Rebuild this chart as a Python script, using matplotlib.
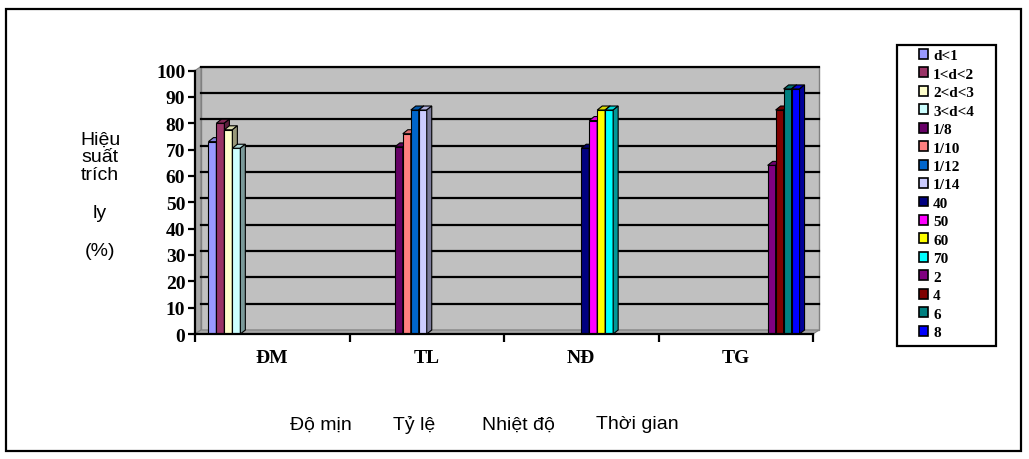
import matplotlib
matplotlib.use("Agg")
import matplotlib.pyplot as plt
import numpy as np
from matplotlib.patches import Patch, Polygon, Rectangle
from matplotlib.transforms import offset_copy

# extraction yield (%) for each factor tested
categories = ["ĐM", "TL", "NĐ", "TG"]
factor_names = ["Độ mịn", "Tỷ lệ", "Nhiệt độ", "Thời gian"]

dm_labels = ["d<1", "1<d<2", "2<d<3", "3<d<4"]
dm_values = [73, 80, 77.5, 70.5]
tl_labels = ["1/8", "1/10", "1/12", "1/14"]
tl_values = [71, 76, 85, 85]
nd_labels = ["40", "50", "60", "70"]
nd_values = [70.5, 81, 85, 85]
tg_labels = ["2", "4", "6", "8"]
tg_values = [64, 85, 93, 93]

series_colors = [
    "#9999FF", "#993366", "#FFFFCC", "#CCFFFF",
    "#660066", "#FF8080", "#0066CC", "#CCCCFF",
    "#000080", "#FF00FF", "#FFFF00", "#00FFFF",
    "#800080", "#800000", "#008080", "#0000FF",
]

groups = [
    (dm_labels, dm_values),
    (tl_labels, tl_values),
    (nd_labels, nd_values),
    (tg_labels, tg_values),
]

W, H = 1029, 460
fig = plt.figure(figsize=(W / 100, H / 100), dpi=100)
fig.patches.append(Rectangle((6 / W, 1 - 452 / H), 1015 / W, 442 / H,
                             transform=fig.transFigure, fill=False,
                             edgecolor="black", lw=1.6))

ax_l, ax_r, ax_b, ax_t = 195, 813, 335, 71.5
ax = fig.add_axes([ax_l / W, 1 - ax_b / H, (ax_r - ax_l) / W, (ax_b - ax_t) / H])
ax.set_xlim(-0.5, len(categories) - 0.5)
ax.set_ylim(0, 100)
ax.patch.set_visible(False)

# pixel -> data conversion for the fake 3D depth
px_x = (len(categories)) / (ax_r - ax_l)
px_y = 100 / (ax_b - ax_t)
wall_dx, wall_dy = 6, 4
ox, oy = wall_dx * px_x, wall_dy * px_y

x0, x1 = -0.5, len(categories) - 0.5
back = offset_copy(ax.transData, fig=fig, x=wall_dx, y=wall_dy, units="dots")
ax.add_patch(Rectangle((x0, 0), x1 - x0, 100, transform=back,
                       facecolor="#C0C0C0", edgecolor="#808080", lw=1,
                       zorder=0.5, clip_on=False))
ax.add_patch(Polygon([(x0, 0), (x0 + ox, oy), (x0 + ox, 100 + oy), (x0, 100)],
                     facecolor="#A6A6A6", edgecolor="#808080", lw=0.8,
                     zorder=0.6, clip_on=False))
ax.add_patch(Polygon([(x0, 0), (x1, 0), (x1 + ox, oy), (x0 + ox, oy)],
                     facecolor="#A6A6A6", edgecolor="#808080", lw=0.8,
                     zorder=0.6, clip_on=False))
for y in range(10, 101, 10):
    ax.plot([x0, x1], [y, y], transform=back, color="black", lw=1.6,
            zorder=0.7, clip_on=False)


def shade(color, f):
    rgb = np.array(matplotlib.colors.to_rgb(color))
    return tuple(rgb * f)


n_series = sum(len(v) for _, v in groups)
gap = 0.174
w = (1 - gap) / n_series
bdx, bdy = 5 * px_x, 4 * px_y

legend_handles = []
s = 0
for ci, (labels, values) in enumerate(groups):
    for lab, val in zip(labels, values):
        col = series_colors[s]
        xl = ci - 0.5 + gap / 2 + s * w
        xr = xl + w
        z = 3 + s * 0.01
        ax.bar(xl, val, width=w, align="edge", color=col, edgecolor="black",
               lw=0.8, zorder=z)
        ax.add_patch(Polygon([(xl, val), (xr, val), (xr + bdx, val + bdy), (xl + bdx, val + bdy)],
                             facecolor=shade(col, 0.85), edgecolor="black", lw=0.8,
                             zorder=z, clip_on=False))
        ax.add_patch(Polygon([(xr, 0), (xr + bdx, bdy), (xr + bdx, val + bdy), (xr, val)],
                             facecolor=shade(col, 0.6), edgecolor="black", lw=0.8,
                             zorder=z, clip_on=False))
        legend_handles.append(Patch(facecolor=col, edgecolor="black", lw=1.2, label=lab))
        s += 1

for side in ("top", "right"):
    ax.spines[side].set_visible(False)
for side in ("left", "bottom"):
    ax.spines[side].set_linewidth(1.6)
    ax.spines[side].set_zorder(5)

serif_bold = dict(family="Liberation Serif", weight="bold", size=14)
ax.set_yticks(range(0, 101, 10))
ax.set_yticklabels([str(v) for v in range(0, 101, 10)], fontdict=serif_bold)
ax.tick_params(axis="y", direction="out", length=5, width=1.6, pad=2)
ax.set_xticks(range(len(categories)))
ax.set_xticklabels(categories, fontdict=serif_bold)
ax.set_xticks(np.arange(-0.5, len(categories), 1.0), minor=True)
ax.tick_params(axis="x", which="major", length=0, pad=11)
ax.tick_params(axis="x", which="minor", direction="out", length=6, width=1.6)

# legend box
fig.patches.append(Rectangle((897 / W, 1 - 347 / H), 99 / W, 301 / H,
                             transform=fig.transFigure, fill=False,
                             edgecolor="black", lw=1.6))
fig.legend(handles=legend_handles, loc="upper left",
           bbox_to_anchor=(919 / W, 1 - 50 / H), frameon=False,
           prop=dict(family="Liberation Serif", weight="bold", size=11),
           handlelength=0.62, handleheight=0.62, handletextpad=0.3,
           labelspacing=0.335, borderaxespad=0, borderpad=0)

sans = dict(family="Liberation Sans", size=14, ha="center", va="center")
for txt, yp in zip(["Hiệu", "suất", "trích", "ly", "(%)"], [140, 158, 176, 214, 252]):
    fig.text(100 / W, 1 - yp / H, txt, **sans)
for txt, xp in zip(factor_names, [321, 414, 518, 637]):
    fig.text(xp / W, 1 - 425 / H, txt, **sans)

fig.savefig("out.png", dpi=100)
